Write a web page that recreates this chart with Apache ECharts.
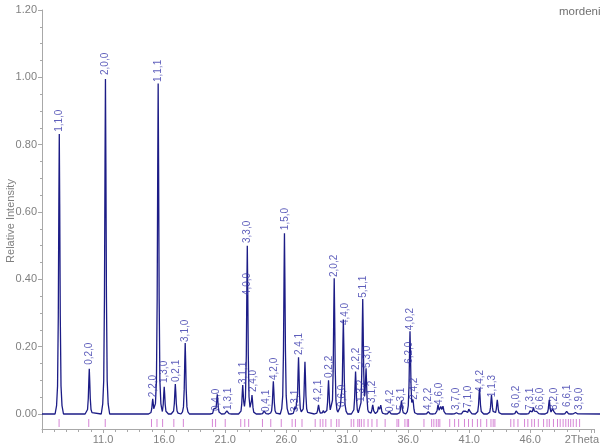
<!DOCTYPE html>
<html>
<head>
<meta charset="utf-8">
<script src="https://cdn.jsdelivr.net/npm/echarts@6/dist/echarts.min.js"></script>
<style>
html,body{margin:0;padding:0;background:#fff;}
#chart{width:600px;height:448px;}
</style>
</head>
<body>
<div id="chart"></div>
<script>
// ---- data ----
const peakPos = [7.40, 9.83, 11.14, 14.97, 15.41, 15.90, 16.80, 17.60, 19.96, 20.20, 21.01, 22.26, 22.63, 23.01, 24.01, 24.74, 25.64, 26.49, 26.78, 27.30, 28.40, 28.79, 29.21, 29.67, 30.18, 30.41, 31.40, 31.98, 32.25, 32.79, 33.26, 33.44, 34.13, 35.12, 35.81, 36.05, 37.29, 38.08, 38.30, 38.48, 39.54, 40.13, 40.35, 40.61, 41.44, 42.41, 42.88, 44.44, 45.57, 45.81, 46.10, 47.09, 47.39, 48.50, 49.18];
const peakInt = [0.832, 0.134, 0.995, 0.045, 0.982, 0.081, 0.089, 0.211, 0.020, 0.058, 0.012, 0.086, 0.500, 0.056, 0.012, 0.097, 0.537, 0.020, 0.168, 0.155, 0.027, 0.010, 0.100, 0.403, 0.020, 0.280, 0.126, 0.339, 0.130, 0.027, 0.020, 0.025, 0.008, 0.040, 0.245, 0.037, 0.007, 0.027, 0.020, 0.022, 0.005, 0.008, 0.010, 0.020, 0.076, 0.056, 0.042, 0.012, 0.012, 0.019, 0.010, 0.042, 0.020, 0.008, 0.006];

const hklText = ['1,1,0','0,2,0','2,0,0','2,2,0','1,1,1','1,3,0','0,2,1','3,1,0','0,4,0','1,3,1','3,1,1','4,0,0','3,3,0','2,4,0','0,4,1','4,2,0','1,5,0','3,3,1','2,4,1','4,2,1','0,2,2','2,0,2','0,6,0','4,4,0','2,2,2','5,1,1','1,3,2','5,3,0','3,1,2','0,4,2','5,3,1','6,2,0','4,0,2','2,4,2','4,2,2','4,6,0','3,7,0','7,1,0','4,4,2','1,1,3','6,0,2','7,3,1','6,6,0','8,2,0','6,6,1','3,9,0'];
const hklPos = [7.38, 9.81, 11.10, 14.99, 15.40, 15.88, 16.85, 17.58, 20.10, 21.07, 22.28, 22.61, 22.65, 23.09, 24.20, 24.83, 25.68, 26.49, 26.84, 28.41, 29.25, 29.68, 30.30, 30.54, 31.44, 32.03, 31.90, 32.35, 32.79, 34.19, 35.14, 35.77, 35.87, 36.16, 37.29, 38.18, 39.54, 40.53, 41.48, 42.48, 44.45, 45.53, 46.34, 47.47, 48.58, 49.50];
const hklLevel = [0.838, 0.146, 1.007, 0.050, 0.986, 0.092, 0.095, 0.214, 0.009, 0.012, 0.089, 0.353, 0.508, 0.065, 0.006, 0.101, 0.546, 0.006, 0.175, 0.036, 0.107, 0.407, 0.021, 0.264, 0.131, 0.345, 0.036, 0.137, 0.033, 0.006, 0.012, 0.149, 0.249, 0.042, 0.012, 0.027, 0.012, 0.018, 0.065, 0.050, 0.018, 0.012, 0.012, 0.012, 0.021, 0.012];

const reflPos = [7.40, 9.83, 11.18, 14.97, 15.42, 15.88, 16.80, 17.58, 19.96, 20.22, 21.01, 22.28, 22.61, 22.93, 24.06, 24.74, 25.60, 26.49, 26.76, 27.30, 28.38, 28.79, 29.01, 29.25, 29.68, 30.14, 30.33, 31.33, 31.54, 31.87, 32.00, 32.16, 32.38, 32.71, 33.03, 33.44, 34.11, 35.08, 35.22, 35.73, 35.92, 36.03, 37.29, 37.92, 38.10, 38.30, 38.46, 38.59, 39.40, 39.80, 40.13, 40.61, 40.94, 41.26, 41.67, 41.94, 42.43, 42.78, 42.96, 43.10, 44.40, 44.66, 44.99, 45.53, 45.80, 46.12, 46.34, 46.66, 47.09, 47.37, 47.56, 47.90, 48.23, 48.45, 48.69, 48.91, 49.12, 49.31, 49.52, 49.77, 50.04];

const yTicks = [0, 0.2, 0.4, 0.6, 0.8, 1.0, 1.2];
const xTickStart = 6, xTickStep = 5, xEnd = 51.2;

// ---- drawing style ----
// peak profile shape (offset in degrees, fraction of peak height)
const SHAPE = [[-0.34,0],[-0.22,0.03],[-0.14,0.1],[-0.08,0.35],[-0.035,0.75],[0,1],[0.035,0.75],[0.08,0.35],[0.14,0.1],[0.22,0.03],[0.34,0]];
function shapeAt(d){
  if (d <= SHAPE[0][0] || d >= SHAPE[SHAPE.length-1][0]) return 0;
  for (let i=1;i<SHAPE.length;i++){
    if (d <= SHAPE[i][0]){
      const a=SHAPE[i-1], b=SHAPE[i];
      return a[1] + (b[1]-a[1])*(d-a[0])/(b[0]-a[0]);
    }
  }
  return 0;
}
const xsSet = new Set([xTickStart, xEnd]);
peakPos.forEach(p => SHAPE.forEach(s => xsSet.add(Math.round((p+s[0])*10000)/10000)));
const xs = Array.from(xsSet).sort((a,b)=>a-b);
const profile = xs.map(x => {
  let v = 0;
  for (let i=0;i<peakPos.length;i++) v += peakInt[i]*shapeAt(x-peakPos[i]);
  return [x, v];
});

const FONT = 'Liberation Sans';
const AX = '#a8a8a8';
const TXT = '#808080';

const chart = echarts.init(document.getElementById('chart'), null, {renderer:'canvas'});
chart.setOption({
  animation: false,
  backgroundColor: '#ffffff',
  grid: [
    {left: 42, right: 0, top: 10, height: 404},
    {left: 42, right: 0, top: 414, height: 15}
  ],
  xAxis: [
    {gridIndex: 0, type: 'value', min: xTickStart, max: xEnd, interval: xTickStep, show: false},
    {gridIndex: 1, type: 'value', min: xTickStart, max: xEnd, interval: xTickStep,
     axisLine: {show: true, onZero: false, lineStyle: {color: AX, width: 1}},
     axisTick: {show: true, length: 4, lineStyle: {color: AX}},
     minorTick: {show: true, splitNumber: 5, length: 3, lineStyle: {color: AX}},
     splitLine: {show: false},
     axisLabel: {show: true, margin: 5, color: TXT, fontSize: 11, fontFamily: FONT,
       formatter: v => (v > xTickStart + 0.01 && v < xEnd - 1) ? v.toFixed(1) : ''},
     name: '2Theta', nameLocation: 'end', nameGap: -29,
     nameTextStyle: {color: TXT, fontSize: 11, fontFamily: FONT, verticalAlign: 'top', padding: [5,0,0,0]}
    }
  ],
  yAxis: [
    {gridIndex: 0, type: 'value', min: yTicks[0], max: yTicks[yTicks.length-1], interval: yTicks[1]-yTicks[0],
     axisLine: {show: true, lineStyle: {color: AX, width: 1}},
     axisTick: {show: true, length: 4, lineStyle: {color: AX}},
     minorTick: {show: true, splitNumber: 4, length: 2, lineStyle: {color: AX}},
     splitLine: {show: false},
     axisLabel: {show: true, margin: 5, color: TXT, fontSize: 11, fontFamily: FONT, formatter: v => v.toFixed(2)}
    },
    {gridIndex: 1, type: 'value', min: 0, max: 1,
     axisLine: {show: true, lineStyle: {color: AX, width: 1}},
     axisTick: {show: false}, axisLabel: {show: false}, splitLine: {show: false}
    }
  ],
  graphic: [
    {type: 'text', x: 11, y: 221, rotation: Math.PI/2,
     style: {text: 'Relative Intensity', fill: TXT, font: '11px ' + FONT, align: 'center', verticalAlign: 'middle'}},
    {type: 'text', x: 559, y: 12,
     style: {text: 'mordenite', fill: '#707070', font: '11.5px ' + FONT, align: 'left', verticalAlign: 'middle'}}
  ],
  series: [
    {type: 'line', xAxisIndex: 0, yAxisIndex: 0, data: profile, showSymbol: false, symbol: 'none',
     lineStyle: {color: '#1c1c86', width: 1.3}, clip: false, z: 3},
    {type: 'scatter', xAxisIndex: 0, yAxisIndex: 0, symbolSize: 0, z: 4,
     data: hklPos.map((p,i) => [p, hklLevel[i], hklText[i]]),
     label: {show: true, formatter: p => p.data[2], position: [0, 0], rotate: 90,
       align: 'left', verticalAlign: 'middle', color: '#3636aa', fontSize: 10, fontFamily: FONT, distance: 0},
     labelLayout: {hideOverlap: false}
    },
    {type: 'scatter', xAxisIndex: 1, yAxisIndex: 1, symbol: 'rect', symbolSize: [1, 8],
     itemStyle: {color: '#cc66cc'},
     data: reflPos.map(p => [p, 0.4])}
  ]
});
</script>
</body>
</html>
